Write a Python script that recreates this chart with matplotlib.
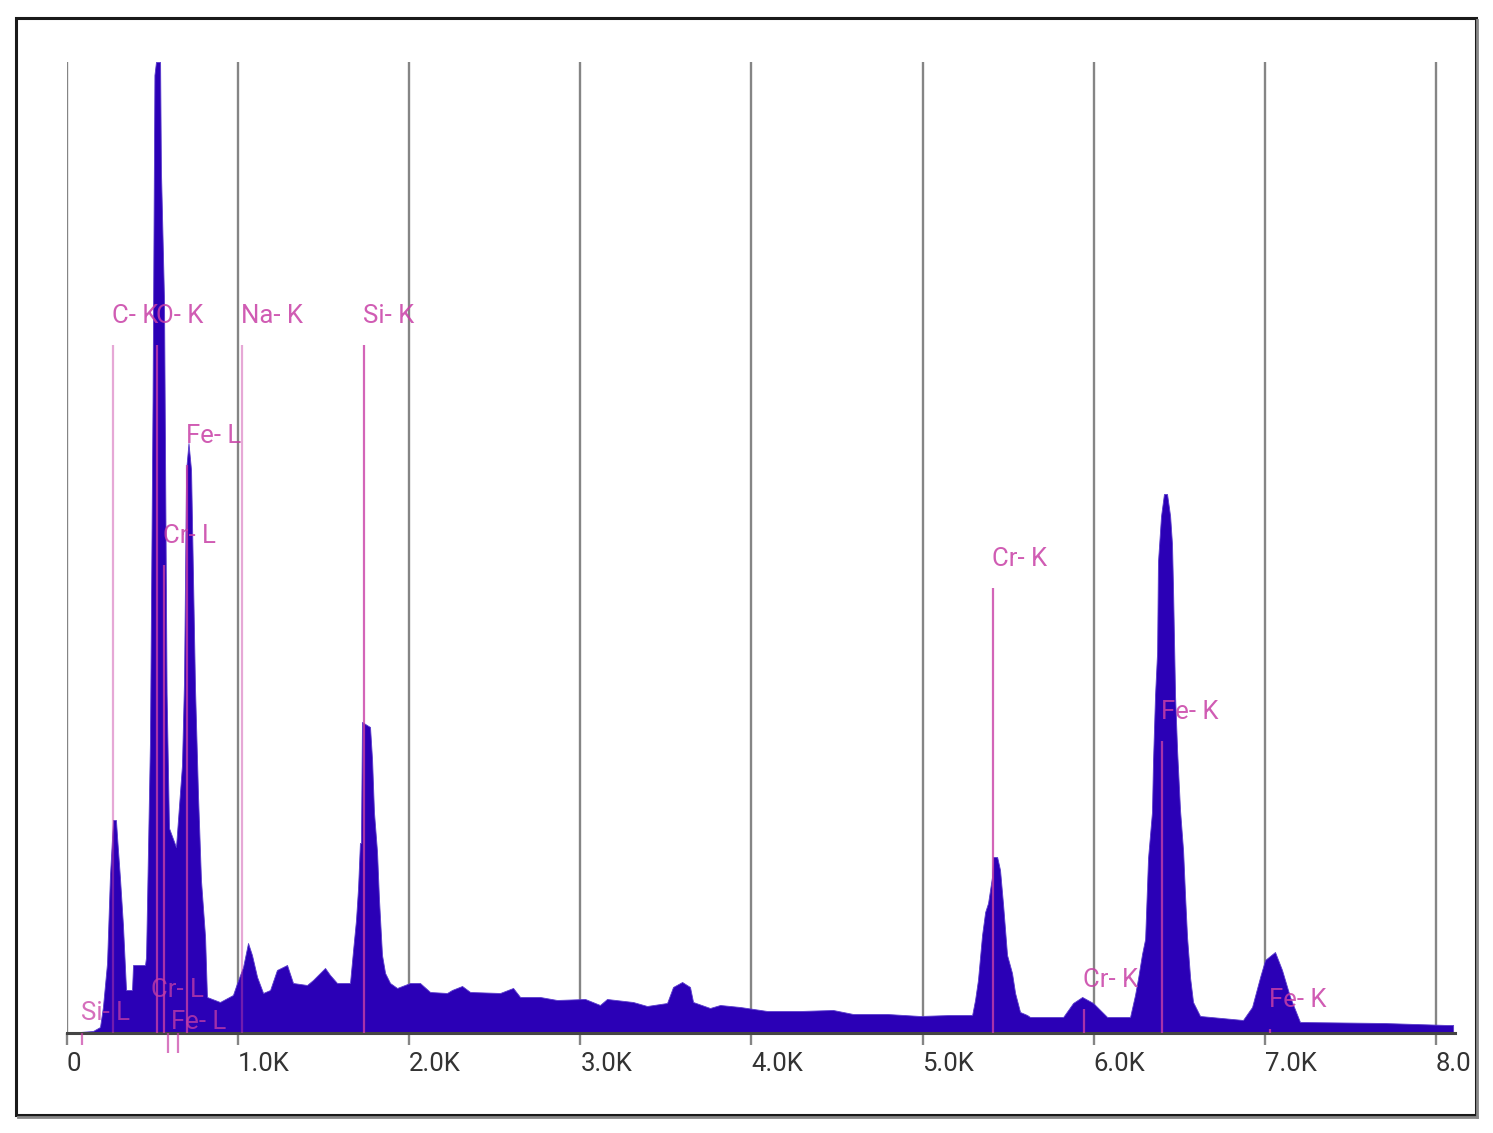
import matplotlib
matplotlib.use("Agg")
import matplotlib.pyplot as plt
from matplotlib.patches import Rectangle
from matplotlib.transforms import Bbox, TransformedBbox

plt.rcParams['font.family'] = ['Roboto', 'DejaVu Sans']

# spectrum (energy in eV, counts in arbitrary units)
energy = [0, 152, 193, 210, 234, 251, 269, 286, 295, 310, 327, 345, 380, 386, 456, 462,
          473, 485, 500, 511, 520, 544, 549, 567, 582, 596, 637, 672, 684, 696, 710, 725,
          748, 766, 783, 807, 818, 894, 970, 994, 1029, 1058, 1081, 1111, 1146, 1187, 1227,
          1286, 1321, 1403, 1438, 1508, 1537, 1578, 1654, 1672, 1689, 1701, 1712, 1718, 1724,
          1771, 1783, 1794, 1812, 1823, 1841, 1859, 1888, 1929, 2005, 2063, 2122, 2221, 2250,
          2309, 2356, 2531, 2607, 2648, 2765, 2864, 3028, 3115, 3156, 3308, 3390, 3507, 3542,
          3595, 3641, 3659, 3758, 3817, 3934, 4092, 4285, 4477, 4594, 4793, 4986, 5161, 5290,
          5307, 5324, 5348, 5366, 5383, 5406, 5412, 5436, 5453, 5471, 5494, 5523, 5541, 5570,
          5611, 5628, 5822, 5880, 5933, 5997, 6079, 6213, 6242, 6260, 6283, 6301, 6318, 6341,
          6347, 6359, 6371, 6376, 6394, 6411, 6429, 6447, 6458, 6464, 6476, 6488, 6505, 6523,
          6535, 6546, 6564, 6581, 6622, 6873, 6926, 6973, 7002, 7060, 7101, 7148, 7206, 7692,
          8066, 8101]
counts = [0, 2, 6, 26, 70, 157, 213, 213, 190, 154, 108, 43, 43, 68, 68, 76,
          180, 293, 633, 958, 971, 971, 863, 733, 340, 205, 186, 268, 353, 563, 590, 563,
          346, 236, 153, 96, 36, 31, 38, 50, 66, 90, 78, 56, 40, 43, 63,
          68, 50, 48, 53, 65, 58, 50, 50, 83, 113, 145, 190, 190, 311,
          306, 273, 221, 181, 135, 78, 60, 50, 45, 50, 50, 41, 40, 43,
          47, 41, 40, 45, 36, 36, 33, 34, 28, 34, 31, 27, 30, 46,
          51, 46, 31, 25, 28, 26, 22, 22, 23, 19, 19, 17, 18, 18,
          33, 53, 98, 121, 130, 156, 176, 176, 163, 128, 78, 60, 40, 21,
          18, 16, 16, 30, 36, 30, 16, 16, 38, 55, 79, 94, 175, 221,
          271, 338, 381, 471, 517, 539, 539, 517, 489, 445, 337, 282, 223, 182,
          135, 96, 55, 31, 17, 13, 26, 56, 73, 81, 63, 36, 11, 10,
          8, 8]

# identified lines
peak_names = ["C- K", "O- K", "Cr- L", "Fe- L", "Na- K", "Si- K", "Cr- K", "Cr- K", "Fe- K", "Fe- K"]
peak_energy = [270, 526, 567, 703, 1025, 1735, 5410, 5944, 6400, 7030]
peak_height = [688, 688, 468, 568, 688, 688, 445, 24, 292, 4]

# small markers under the baseline
minor_names = ["Si- L", "Cr- L", "Fe- L"]
minor_energy = [85, 590, 650]
minor_label_energy = [85, 497, 614]
minor_label_height = [20, 43, 11]

tick_pos = [0, 1000, 2000, 3000, 4000, 5000, 6000, 7000, 8000]
tick_lbl = ["0", "1.0K", "2.0K", "3.0K", "4.0K", "5.0K", "6.0K", "7.0K", "8.0K"]

W, H = 1493, 1133
fig = plt.figure(figsize=(W / 100, H / 100), dpi=100)
ax = fig.add_axes([67 / W, (H - 1033) / H, (1455 - 67) / W, 971 / H])

spec_col = '#2b00b6'
grid_col = '#858585'
pink = '#c83fa6'

ax.vlines(tick_pos, 0, 971, color=grid_col, lw=1.7, zorder=0.5)
ax.fill_between(energy, counts, 0, color=spec_col, lw=0.6, edgecolor='#5a3ccc', zorder=2)

light = {"C- K", "Na- K"}
for n, e, h in zip(peak_names, peak_energy, peak_height):
    a = 0.45 if n in light else 0.8
    ax.vlines(e, 0, h, color=pink, lw=1.6, alpha=a, zorder=3)
    ax.text(e - 6, h + 29, n, ha='left', va='center', fontsize=18.5, color=pink,
            alpha=0.85, zorder=4)

for e in minor_energy:
    ax.vlines(e, -20 if e > 100 else -12, 0, color=pink, lw=1.6, alpha=0.7,
              zorder=3, clip_on=False)
for n, e, h in zip(minor_names, minor_label_energy, minor_label_height):
    ax.text(e - 6, h, n, ha='left', va='center', fontsize=18.5, color=pink,
            alpha=0.75, zorder=4)

ax.set_xlim(0, 8112)
ax.set_ylim(0, 971)
for s in ['top', 'left', 'right']:
    ax.spines[s].set_visible(False)
ax.spines['bottom'].set_color('#444444')
ax.spines['bottom'].set_linewidth(2.2)
ax.spines['bottom'].set_zorder(2.5)
ax.set_yticks([])
ax.set_xticks(tick_pos)
ax.set_xticklabels(tick_lbl)
ax.tick_params(axis='x', direction='out', length=8.6, width=1.7, color=grid_col,
               labelsize=18.5, labelcolor='#333333', pad=5)

clip = TransformedBbox(Bbox([[0, 0], [1470 / W, 1]]), fig.transFigure)
for t in ax.xaxis.get_major_ticks():
    t.label1.set_horizontalalignment('left')
    t.label1.set_clip_box(clip)
    t.label1.set_clip_on(True)

# outer frame
fig.patches.append(Rectangle((16 / W, (H - 1115) / H), 1460 / W, 1097 / H, fill=False,
                             ec='#1a1a1a', lw=2.2, transform=fig.transFigure))
fig.lines.append(plt.Line2D([1477 / W, 1477 / W], [(H - 1117) / H, (H - 20) / H],
                            color='#888888', lw=2, transform=fig.transFigure))
fig.lines.append(plt.Line2D([18 / W, 1477 / W], [(H - 1117) / H, (H - 1117) / H],
                            color='#888888', lw=2, transform=fig.transFigure))

fig.savefig("out.png", dpi=100)
